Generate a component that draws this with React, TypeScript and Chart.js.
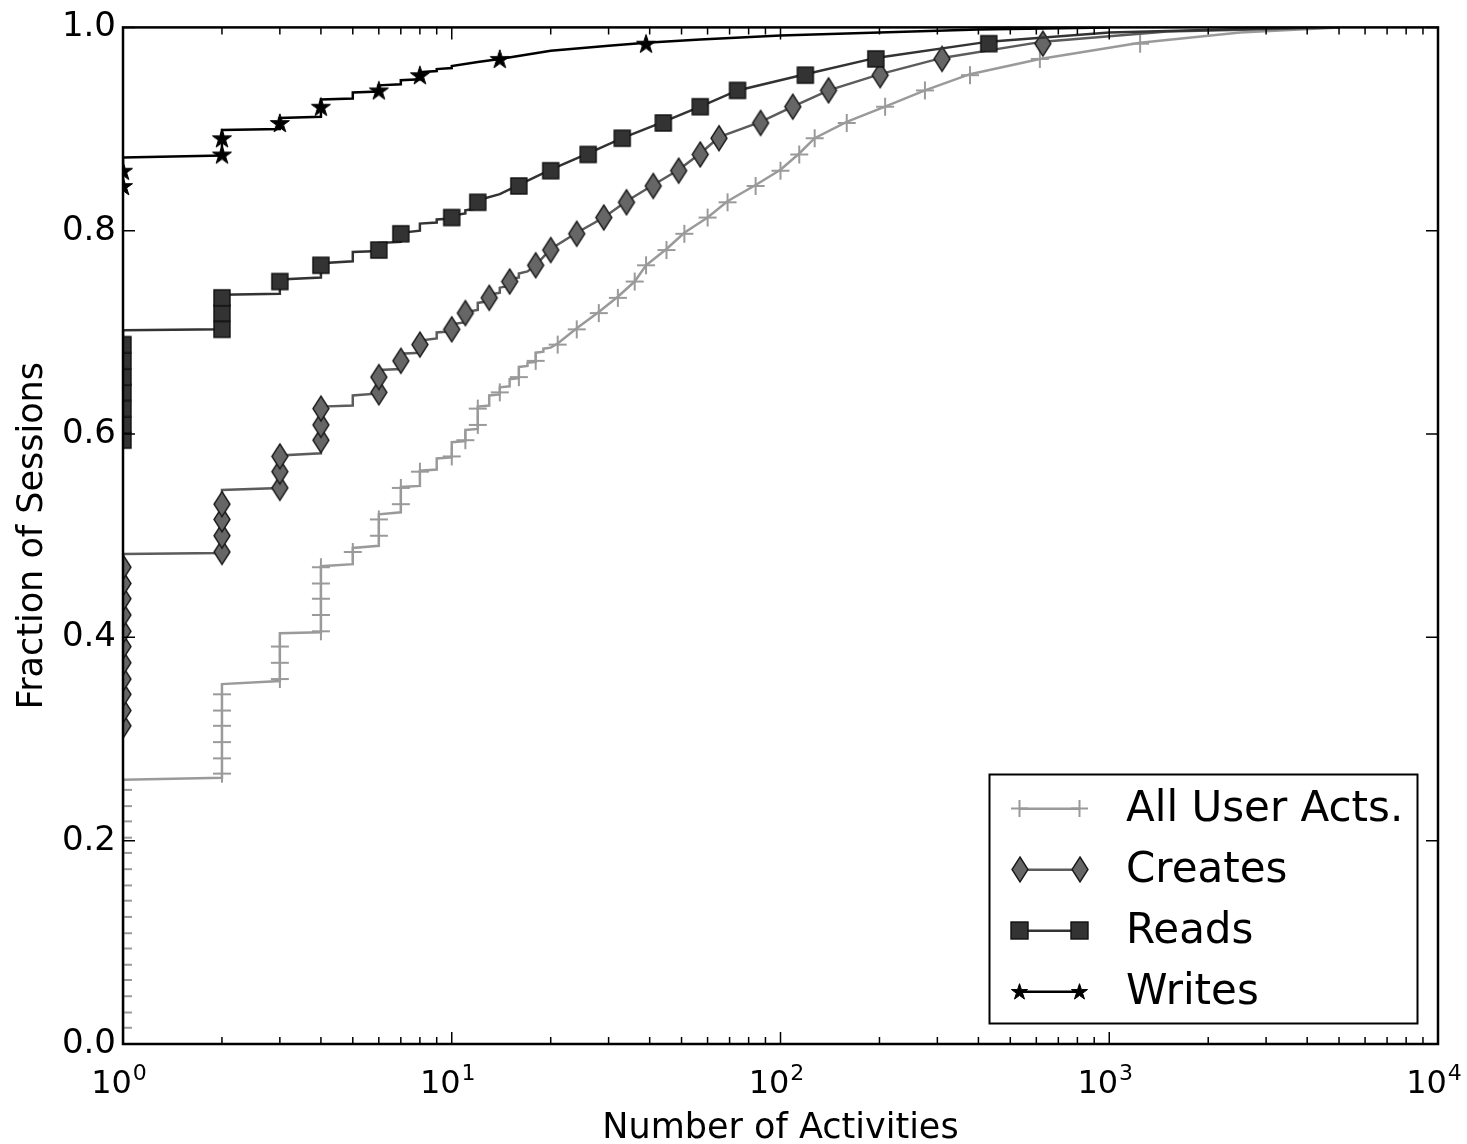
import React, { useEffect, useRef } from 'react';
import { Chart, registerables } from 'chart.js';

Chart.register(...registerables);

type Pt = [number, number];

// ---------------- data ----------------
const seriesNames = ['All User Acts.', 'Creates', 'Reads', 'Writes'];
const xTickValues = [1, 10, 100, 1000, 10000];
const xTickBase = '10';
const xTickExponents = ['0', '1', '2', '3', '4'];
const yTickValues = [0, 0.2, 0.4, 0.6, 0.8, 1.0];
const yTickLabels = ['0.0', '0.2', '0.4', '0.6', '0.8', '1.0'];
const xAxisTitle = 'Number of Activities';
const yAxisTitle = 'Fraction of Sessions';

const allActsLine: Pt[] = [
  [1, 0], [1, 0.26], [2, 0.262], [2, 0.354], [3, 0.357], [3, 0.404], [4, 0.405], [4, 0.47],
  [5, 0.472], [5, 0.488], [6, 0.49], [6, 0.521], [7, 0.523], [7, 0.548], [8, 0.549], [8, 0.564],
  [9, 0.565], [9, 0.576], [10, 0.577], [10, 0.592], [11, 0.593], [11, 0.604], [12, 0.605], [12, 0.627],
  [13, 0.628], [13, 0.638], [14, 0.639], [14, 0.646], [15, 0.647], [15, 0.654], [16, 0.655], [16, 0.666],
  [17, 0.667], [17, 0.67], [18, 0.671], [18, 0.68], [19, 0.681], [19, 0.684], [20, 0.685], [21, 0.689],
  [24, 0.704], [28, 0.72], [32, 0.735], [36, 0.75], [39, 0.766], [45, 0.782], [51, 0.798], [60, 0.813],
  [69, 0.829], [84, 0.845], [100, 0.86], [114, 0.876], [127, 0.891], [159, 0.907], [208, 0.922],
  [275, 0.938], [377, 0.954], [615, 0.969], [1241, 0.985], [2500, 0.995], [5000, 1.0],
];
const allActsMarks: Pt[] = [
  [1, 0], [1, 0.016], [1, 0.031], [1, 0.047], [1, 0.063], [1, 0.078], [1, 0.094], [1, 0.109],
  [1, 0.125], [1, 0.141], [1, 0.156], [1, 0.172], [1, 0.188], [1, 0.203], [1, 0.219], [1, 0.234], [1, 0.25],
  [2, 0.266], [2, 0.281], [2, 0.297], [2, 0.313], [2, 0.328], [2, 0.344],
  [3, 0.359], [3, 0.375], [3, 0.391],
  [4, 0.406], [4, 0.422], [4, 0.438], [4, 0.453], [4, 0.469],
  [5, 0.484], [6, 0.5], [6, 0.516], [7, 0.531], [7, 0.547], [8, 0.563], [10, 0.578], [11, 0.594],
  [12, 0.609], [12, 0.625], [14, 0.641], [16, 0.656], [18, 0.672], [21, 0.688], [24, 0.703], [28, 0.719],
  [32, 0.734], [36, 0.75], [39, 0.766], [45, 0.781], [51, 0.797], [60, 0.813], [69, 0.828], [84, 0.844],
  [100, 0.859], [114, 0.875], [127, 0.891], [159, 0.906], [208, 0.922], [275, 0.938], [377, 0.953],
  [615, 0.969], [1241, 0.984],
];

const createsLine: Pt[] = [
  [1, 0.305], [1, 0.482], [2, 0.483], [2, 0.545], [3, 0.547], [3, 0.579], [4, 0.581], [4, 0.627],
  [5, 0.628], [5, 0.638], [6, 0.64], [6, 0.663], [7, 0.664], [7, 0.679], [8, 0.68], [8, 0.692],
  [9, 0.694], [9, 0.7], [10, 0.701], [10, 0.708], [11, 0.71], [11, 0.72], [12, 0.722], [12, 0.729],
  [13, 0.731], [13, 0.737], [14, 0.739], [14, 0.744], [15, 0.746], [15, 0.752], [16, 0.754], [16, 0.758],
  [17, 0.76], [18, 0.766], [20, 0.782], [24, 0.798], [29, 0.813], [34, 0.829], [41, 0.845], [49, 0.86],
  [57, 0.876], [65, 0.892], [87, 0.907], [109, 0.922], [140, 0.938], [201, 0.954], [310, 0.97],
  [628, 0.986], [1500, 0.996], [5000, 1.0],
];
const createsMarks: Pt[] = [
  [1, 0.313], [1, 0.328], [1, 0.344], [1, 0.359], [1, 0.375], [1, 0.391], [1, 0.406], [1, 0.422],
  [1, 0.438], [1, 0.453], [1, 0.469],
  [2, 0.484], [2, 0.5], [2, 0.516], [2, 0.531],
  [3, 0.547], [3, 0.563], [3, 0.578],
  [4, 0.594], [4, 0.609], [4, 0.625],
  [6, 0.641], [6, 0.656], [7, 0.672], [8, 0.688], [10, 0.703], [11, 0.719], [13, 0.734], [15, 0.75],
  [18, 0.766], [20, 0.781], [24, 0.797], [29, 0.813], [34, 0.828], [41, 0.844], [49, 0.859], [57, 0.875],
  [65, 0.891], [87, 0.906], [109, 0.922], [140, 0.938], [201, 0.953], [310, 0.969], [628, 0.984],
];

const readsLine: Pt[] = [
  [1, 0.585], [1, 0.702], [2, 0.703], [2, 0.737], [3, 0.738], [3, 0.752], [4, 0.754], [4, 0.768],
  [5, 0.77], [5, 0.779], [6, 0.78], [6, 0.788], [7, 0.789], [7, 0.798], [8, 0.8], [8, 0.807],
  [9, 0.808], [9, 0.811], [10, 0.812], [10, 0.815], [11, 0.817], [11, 0.82], [12, 0.822], [12, 0.83],
  [14, 0.836], [16, 0.845], [20, 0.86], [26, 0.876], [33, 0.891], [44, 0.907], [57, 0.922], [74, 0.938],
  [119, 0.954], [195, 0.97], [430, 0.986], [1000, 0.995], [4000, 1.0],
];
const readsMarks: Pt[] = [
  [1, 0.594], [1, 0.609], [1, 0.625], [1, 0.641], [1, 0.656], [1, 0.672], [1, 0.688],
  [2, 0.703], [2, 0.719], [2, 0.734],
  [3, 0.75], [4, 0.766], [6, 0.781], [7, 0.797], [10, 0.813], [12, 0.828], [16, 0.844], [20, 0.859],
  [26, 0.875], [33, 0.891], [44, 0.906], [57, 0.922], [74, 0.938], [119, 0.953], [195, 0.969], [430, 0.984],
];

const writesLine: Pt[] = [
  [1, 0.838], [1, 0.872], [2, 0.874], [2, 0.899], [3, 0.9], [3, 0.911], [4, 0.912], [4, 0.929],
  [5, 0.93], [5, 0.936], [6, 0.937], [6, 0.943], [7, 0.944], [7, 0.948], [8, 0.949], [8, 0.956],
  [9, 0.957], [9, 0.959], [10, 0.96], [10, 0.962], [12, 0.966], [14, 0.969], [20, 0.977], [30, 0.982],
  [39, 0.985], [57, 0.988], [100, 0.992], [200, 0.995], [400, 0.998], [1000, 1.0],
];
const writesMarks: Pt[] = [
  [1, 0.844], [1, 0.859], [2, 0.875], [2, 0.891], [3, 0.906], [4, 0.922], [6, 0.938], [8, 0.953],
  [14, 0.969], [39, 0.984],
];

// ---------------- styling ----------------
const FONT = "'DejaVu Sans', 'Liberation Sans', sans-serif";
const lineColors = ['#9a9a9a', '#5c5c5c', '#333333', '#000000'];
const markerKinds = ['plus', 'diamond', 'square', 'star'];

function makeCanvas(w: number, h: number, draw: (c: CanvasRenderingContext2D, cx: number, cy: number) => void) {
  const c = document.createElement('canvas');
  c.width = w;
  c.height = h;
  const ctx = c.getContext('2d') as CanvasRenderingContext2D;
  draw(ctx, w / 2, h / 2);
  return c;
}

function makeMarker(kind: string, big: boolean): HTMLCanvasElement {
  if (kind === 'plus') {
    const s = big ? 18 : 17;
    return makeCanvas(s + 4, s + 4, (c, cx, cy) => {
      c.strokeStyle = '#9a9a9a';
      c.lineWidth = 2;
      c.beginPath();
      c.moveTo(cx - s / 2, cy); c.lineTo(cx + s / 2, cy);
      c.moveTo(cx, cy - s / 2); c.lineTo(cx, cy + s / 2);
      c.stroke();
    });
  }
  if (kind === 'diamond') {
    const w = 16, h = 25;
    return makeCanvas(w + 4, h + 4, (c, cx, cy) => {
      c.beginPath();
      c.moveTo(cx, cy - h / 2); c.lineTo(cx + w / 2, cy); c.lineTo(cx, cy + h / 2); c.lineTo(cx - w / 2, cy);
      c.closePath();
      c.fillStyle = '#666666';
      c.fill();
      c.strokeStyle = '#1a1a1a';
      c.lineWidth = 1.4;
      c.stroke();
    });
  }
  if (kind === 'square') {
    const s = big ? 16 : 17;
    return makeCanvas(s + 4, s + 4, (c, cx, cy) => {
      c.fillStyle = '#333333';
      c.fillRect(cx - s / 2, cy - s / 2, s, s);
      c.strokeStyle = '#111111';
      c.lineWidth = 1.4;
      c.strokeRect(cx - s / 2, cy - s / 2, s, s);
    });
  }
  const R = big ? 10 : 8.5;
  return makeCanvas(Math.ceil(2 * R + 4), Math.ceil(2 * R + 4), (c, cx, cy) => {
    const r = R * 0.382;
    c.beginPath();
    for (let i = 0; i < 10; i++) {
      const ang = -Math.PI / 2 + (i * Math.PI) / 5;
      const rr = i % 2 === 0 ? R : r;
      const px = cx + rr * Math.cos(ang);
      const py = cy + R * 0.08 + rr * Math.sin(ang);
      if (i === 0) c.moveTo(px, py); else c.lineTo(px, py);
    }
    c.closePath();
    c.fillStyle = '#000';
    c.fill();
    c.strokeStyle = '#000';
    c.lineWidth = 1;
    c.stroke();
  });
}

const seriesLines = [allActsLine, createsLine, readsLine, writesLine];
const seriesMarks = [allActsMarks, createsMarks, readsMarks, writesMarks];

export default function App() {
  const ref = useRef<HTMLCanvasElement | null>(null);

  useEffect(() => {
    if (!ref.current) return;
    const plotMarkers = markerKinds.map((k) => makeMarker(k, true));
    const legendMarkers = markerKinds.map((k) => makeMarker(k, false));

    const datasets: any[] = [];
    seriesNames.forEach((name, i) => {
      datasets.push({
        label: name,
        data: seriesLines[i].map(([x, y]) => ({ x, y })),
        showLine: true,
        borderColor: lineColors[i],
        backgroundColor: lineColors[i],
        borderWidth: 2.5,
        pointRadius: 0,
        tension: 0,
        fill: false,
        clip: 0,
        order: 8 - 2 * i,
      });
      datasets.push({
        label: name + ' markers',
        data: seriesMarks[i].map(([x, y]) => ({ x, y })),
        showLine: false,
        pointStyle: plotMarkers[i],
        pointRadius: 10,
        pointHoverRadius: 10,
        clip: 0,
        order: 7 - 2 * i,
      });
    });

    const framePlugin = {
      id: 'mplFrame',
      afterDatasetsDraw(chart: any) {
        const { ctx, chartArea: a, scales } = chart;
        const xs = scales.x;
        const ys = scales.y;
        ctx.save();
        ctx.strokeStyle = '#000';
        ctx.lineWidth = 1.5;
        ctx.beginPath();
        for (const v of xTickValues) {
          const px = xs.getPixelForValue(v);
          ctx.moveTo(px, a.bottom); ctx.lineTo(px, a.bottom - 12);
          ctx.moveTo(px, a.top); ctx.lineTo(px, a.top + 12);
        }
        for (let d = 0; d < xTickValues.length - 1; d++) {
          for (let m = 2; m <= 9; m++) {
            const px = xs.getPixelForValue(xTickValues[d] * m);
            ctx.moveTo(px, a.bottom); ctx.lineTo(px, a.bottom - 7);
            ctx.moveTo(px, a.top); ctx.lineTo(px, a.top + 7);
          }
        }
        for (const t of ys.ticks) {
          const py = ys.getPixelForValue(t.value);
          ctx.moveTo(a.left, py); ctx.lineTo(a.left + 12, py);
          ctx.moveTo(a.right, py); ctx.lineTo(a.right - 12, py);
        }
        ctx.stroke();
        ctx.lineWidth = 2.5;
        ctx.strokeRect(a.left, a.top, a.right - a.left, a.bottom - a.top);

        // x tick labels: "10" with a superscript exponent (mathtext style)
        ctx.fillStyle = '#000';
        ctx.textBaseline = 'alphabetic';
        ctx.textAlign = 'left';
        const baseFont = `32px ${FONT}`;
        const supFont = `22px ${FONT}`;
        xTickValues.forEach((v, i) => {
          const px = xs.getPixelForValue(v);
          ctx.font = baseFont;
          const wb = ctx.measureText(xTickBase).width;
          ctx.font = supFont;
          const we = ctx.measureText(xTickExponents[i]).width;
          const total = wb + 1 + we;
          const x0 = px - 4 - total / 2;
          const baseY = a.bottom + 49;
          ctx.font = baseFont;
          ctx.fillText(xTickBase, x0, baseY);
          ctx.font = supFont;
          ctx.fillText(xTickExponents[i], x0 + wb + 1, baseY - 13);
        });
        ctx.restore();
      },
    };

    const legendPlugin = {
      id: 'mplLegend',
      afterDraw(chart: any) {
        const { ctx, chartArea: a } = chart;
        const w = 428;
        const h = 249;
        const x0 = a.right - 20.5 - w;
        const y0 = a.bottom - 20.5 - h;
        ctx.save();
        ctx.fillStyle = '#fff';
        ctx.fillRect(x0, y0, w, h);
        ctx.lineWidth = 2;
        ctx.strokeStyle = '#000';
        ctx.strokeRect(x0, y0, w, h);
        ctx.font = `42px ${FONT}`;
        ctx.textBaseline = 'middle';
        ctx.textAlign = 'left';
        seriesNames.forEach((name, i) => {
          const cy = y0 + 34.3 + i * 61;
          ctx.strokeStyle = lineColors[i];
          ctx.lineWidth = 2.5;
          ctx.beginPath();
          ctx.moveTo(x0 + 30, cy);
          ctx.lineTo(x0 + 90, cy);
          ctx.stroke();
          const m = legendMarkers[i];
          ctx.drawImage(m, Math.round(x0 + 30 - m.width / 2), Math.round(cy - m.height / 2));
          ctx.drawImage(m, Math.round(x0 + 90 - m.width / 2), Math.round(cy - m.height / 2));
          ctx.fillStyle = '#000';
          ctx.fillText(name, x0 + 136.5, cy + 1);
        });
        ctx.restore();
      },
    };

    const chart = new Chart(ref.current, {
      type: 'scatter',
      data: { datasets },
      plugins: [framePlugin, legendPlugin],
      options: {
        animation: false,
        responsive: false,
        events: [],
        layout: { padding: { left: 0, top: 27, right: 29, bottom: 0 } },
        plugins: { legend: { display: false }, tooltip: { enabled: false } },
        scales: {
          x: {
            type: 'logarithmic',
            min: 1,
            max: 10000,
            grid: { display: false, drawTicks: false },
            border: { display: false },
            afterBuildTicks: (s: any) => {
              s.ticks = xTickValues.map((v) => ({ value: v }));
            },
            afterFit: (s: any) => {
              s.height = 100;
              s.paddingLeft = 0;
              s.paddingRight = 0;
            },
            ticks: { display: false, autoSkip: false, maxRotation: 0, minRotation: 0 },
            title: {
              display: true,
              text: xAxisTitle,
              color: '#000',
              font: { family: FONT, size: 35 },
              padding: { top: 0, bottom: -6 },
            },
          },
          y: {
            type: 'linear',
            min: 0,
            max: 1,
            grid: { display: false, drawTicks: false },
            border: { display: false },
            afterBuildTicks: (s: any) => {
              s.ticks = yTickValues.map((v) => ({ value: v }));
            },
            afterFit: (s: any) => {
              s.width = 123;
            },
            ticks: {
              padding: 7,
              color: '#000',
              font: { family: FONT, size: 34 },
              callback: (_v: any, i: number) => yTickLabels[i],
            },
            title: {
              display: true,
              text: yAxisTitle,
              color: '#000',
              font: { family: FONT, size: 35 },
              padding: { top: 12, bottom: 0 },
            },
          },
        },
      } as any,
    });
    return () => chart.destroy();
  }, []);

  return (
    <div style={{ position: 'fixed', left: 0, top: 0, width: 1467, height: 1144, background: '#fff' }}>
      <canvas ref={ref} width={1467} height={1144} style={{ width: 1467, height: 1144, display: 'block' }} />
    </div>
  );
}
